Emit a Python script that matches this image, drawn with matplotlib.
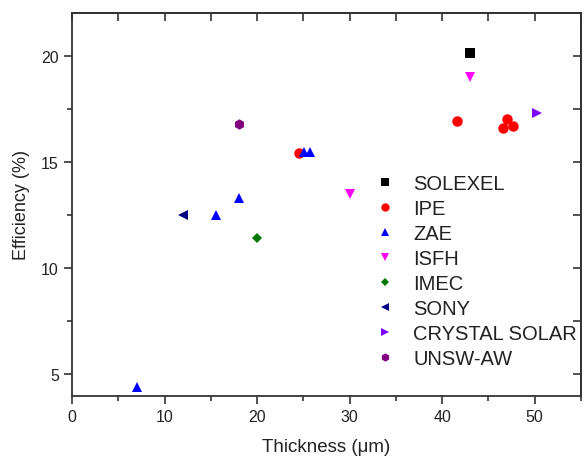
import matplotlib
matplotlib.use("Agg")
import matplotlib.pyplot as plt
from matplotlib.ticker import MultipleLocator

plt.rcParams['font.family'] = ['Liberation Sans', 'DejaVu Sans']

groups = ["SOLEXEL", "IPE", "ZAE", "ISFH", "IMEC", "SONY", "CRYSTAL SOLAR", "UNSW-AW"]
solexel_x = [43.0]
solexel_y = [20.1]
ipe_x = [24.5, 41.6, 47.0, 46.6, 47.6]
ipe_y = [15.4, 16.9, 17.0, 16.6, 16.7]
zae_x = [7.0, 15.6, 18.0, 25.1, 25.7]
zae_y = [4.4, 12.5, 13.3, 15.45, 15.45]
isfh_x = [30.0, 43.0]
isfh_y = [13.5, 19.0]
imec_x = [20.0]
imec_y = [11.4]
sony_x = [12.0]
sony_y = [12.5]
crystal_x = [50.2]
crystal_y = [17.3]
unsw_x = [18.0]
unsw_y = [16.8]

xs = [solexel_x, ipe_x, zae_x, isfh_x, imec_x, sony_x, crystal_x, unsw_x]
ys = [solexel_y, ipe_y, zae_y, isfh_y, imec_y, sony_y, crystal_y, unsw_y]
markers = ['s', 'o', '^', 'v', 'D', '<', '>', 'h']
colors = ['#000000', '#FF0000', '#0000FF', '#FF00FF', '#007800', '#000080', '#7A00FF', '#800080']
sizes = [6.5, 7.5, 7.5, 7.5, 5.5, 7.5, 7.5, 7.5]

fig = plt.figure(figsize=(5.86, 4.60), dpi=100)
ax = fig.add_axes([72/586, (460-396.7)/460, (581-72)/586, (396.7-14)/460])

for g, x, y, m, c, s in zip(groups, xs, ys, markers, colors, sizes):
    ax.plot(x, y, linestyle='none', marker=m, color=c, markersize=s,
            markeredgewidth=0, label=g)

ax.set_xlim(0, 55)
ax.set_ylim(4.0, 22.0)
ax.xaxis.set_major_locator(MultipleLocator(10))
ax.xaxis.set_minor_locator(MultipleLocator(5))
ax.yaxis.set_major_locator(MultipleLocator(5))
ax.yaxis.set_minor_locator(MultipleLocator(2.5))

for sp in ax.spines.values():
    sp.set_linewidth(1.3)
    sp.set_color('#333333')

ax.tick_params(which='both', direction='out', top=False, right=False,
               width=1.2, color='#333333', labelsize=11.5, labelcolor='#222222')
ax.tick_params(which='major', length=6)
ax.tick_params(which='minor', length=3.5)

secx = ax.secondary_xaxis('top')
secx.xaxis.set_major_locator(MultipleLocator(10))
secx.xaxis.set_minor_locator(MultipleLocator(5))
secx.tick_params(which='both', direction='in', labeltop=False, width=1.2,
                 color='#333333', length=6)
secx.spines['top'].set_linewidth(1.3)
secx.spines['top'].set_color('#333333')
secy = ax.secondary_yaxis('right')
secy.yaxis.set_major_locator(MultipleLocator(5))
secy.yaxis.set_minor_locator(MultipleLocator(2.5))
secy.tick_params(which='both', direction='in', labelright=False, width=1.2,
                 color='#333333', length=6)
secy.spines['right'].set_linewidth(1.3)
secy.spines['right'].set_color('#333333')

ax.set_xlabel('Thickness (\u03bcm)', fontsize=13.5, color='#222222', labelpad=10)
ax.set_ylabel('Efficiency (%)', fontsize=13, color='#222222', labelpad=8)

leg = ax.legend(loc='upper left', bbox_to_anchor=(375/586, (460-175)/460),
                bbox_transform=fig.transFigure, frameon=False, fontsize=14.5,
                handlelength=1.0, handletextpad=0.9, labelspacing=0.30,
                borderpad=0, borderaxespad=0, numpoints=1, markerscale=0.8)
for t in leg.get_texts():
    t.set_color('#222222')

fig.savefig('out.png', dpi=100)
